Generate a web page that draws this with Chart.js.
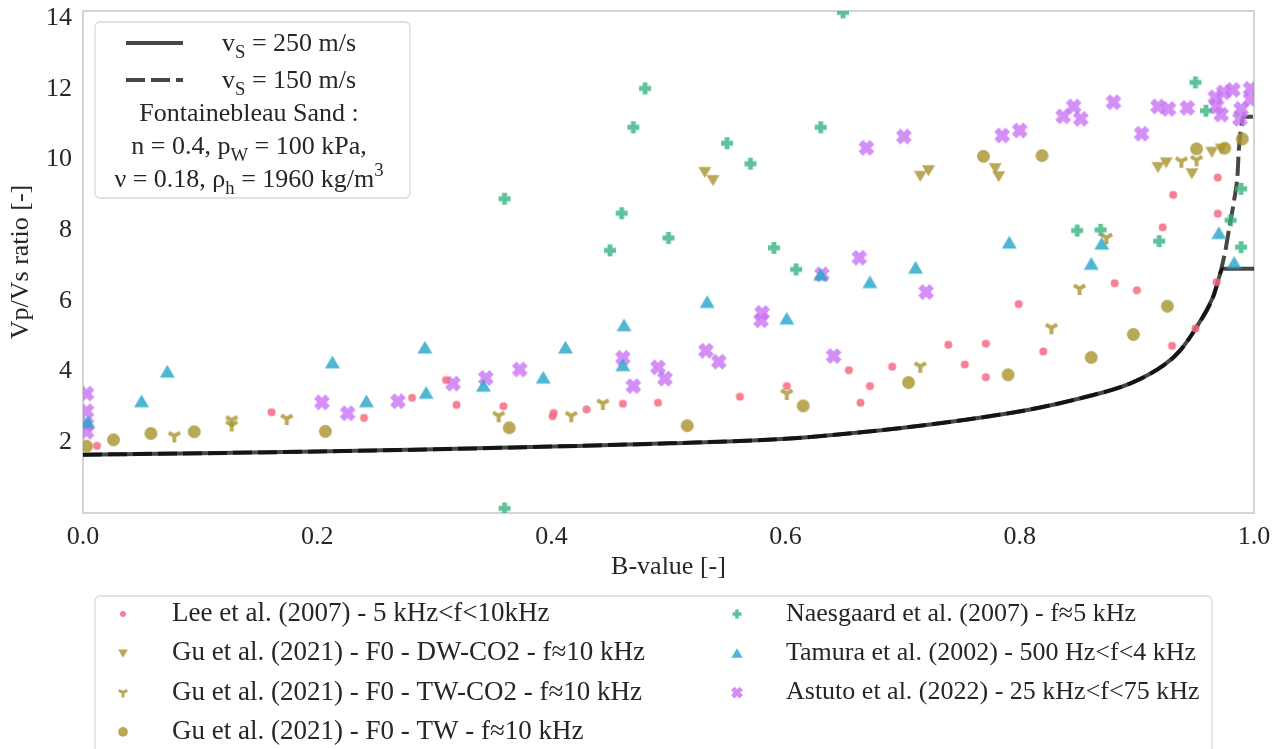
<!DOCTYPE html>
<html>
<head>
<meta charset="utf-8">
<title>Vp/Vs ratio vs B-value</title>
<script src="https://cdn.jsdelivr.net/npm/chart.js@4.4.1/dist/chart.umd.min.js"></script>
<style>
  html, body { margin: 0; padding: 0; background: #fff; }
  #wrap { width: 1278px; height: 749px; }
</style>
</head>
<body>
<div id="wrap"><canvas id="chart" width="1278" height="749"></canvas></div>
<script>
// axis ticks
const xTicks = [0, 0.2, 0.4, 0.6, 0.8, 1.0];
const yTicks = [2, 4, 6, 8, 10, 12, 14];

// series names
const leeLabel = 'Lee et al. (2007) - 5 kHz<f<10kHz';
const guDwLabel = 'Gu et al. (2021) - F0 - DW-CO2 - f\u224810 kHz';
const guTwCo2Label = 'Gu et al. (2021) - F0 - TW-CO2 - f\u224810 kHz';
const guTwLabel = 'Gu et al. (2021) - F0 - TW - f\u224810 kHz';
const naesLabel = 'Naesgaard et al. (2007) - f\u22485 kHz';
const tamuraLabel = 'Tamura et al. (2002) - 500 Hz<f<4 kHz';
const astutoLabel = 'Astuto et al. (2022) - 25 kHz<f<75 kHz';

// measured points [B-value, Vp/Vs]
const leeData = [[0.012,1.90],[0.161,2.85],[0.240,2.69],[0.281,3.26],[0.310,3.76],[0.319,3.06],[0.359,3.02],
  [0.401,2.74],[0.402,2.83],[0.430,2.93],[0.461,3.09],[0.491,3.12],[0.561,3.29],[0.601,3.59],[0.654,4.04],
  [0.664,3.12],[0.672,3.59],[0.691,4.14],[0.739,4.76],[0.753,4.20],[0.771,4.79],[0.771,3.84],[0.799,5.91],
  [0.820,4.57],[0.881,6.50],[0.900,6.30],[0.922,8.08],[0.930,4.73],[0.931,9.00],[0.950,5.22],[0.968,6.53],
  [0.969,8.47],[0.969,9.49]];
const guDwData = [[0.531,9.64],[0.538,9.41],[0.715,9.53],[0.722,9.69],[0.779,9.75],[0.782,9.52],[0.918,9.78],
  [0.925,9.91],[0.947,9.60],[0.964,10.21],[0.972,10.30]];
const guTwCo2Data = [[0.078,2.18],[0.127,2.49],[0.127,2.63],[0.174,2.67],[0.355,2.75],[0.417,2.75],[0.444,3.10],
  [0.601,3.38],[0.715,4.15],[0.827,5.24],[0.851,6.35],[0.874,7.79],[0.938,9.95],[0.951,9.99]];
const guTwData = [[0.003,1.89],[0.026,2.07],[0.058,2.25],[0.095,2.30],[0.207,2.31],[0.364,2.41],[0.516,2.47],
  [0.615,3.03],[0.705,3.69],[0.769,10.09],[0.790,3.91],[0.819,10.11],[0.861,4.40],[0.897,5.05],[0.926,5.85],
  [0.951,10.30],[0.975,10.32],[0.990,10.58]];
const naesData = [[0.360,0.13],[0.360,8.89],[0.450,7.43],[0.460,8.48],[0.470,10.91],[0.480,12.01],[0.500,7.78],
  [0.550,10.46],[0.570,9.88],[0.590,7.50],[0.609,6.89],[0.630,10.91],[0.649,14.16],[0.849,7.99],[0.869,8.01],
  [0.919,7.69],[0.950,12.18],[0.959,11.38],[0.980,8.28],[0.989,9.17],[0.989,7.52]];
const tamuraData = [[0.004,2.58],[0.050,3.16],[0.072,4.00],[0.213,4.26],[0.242,3.16],[0.292,4.68],[0.293,3.40],
  [0.342,3.60],[0.393,3.83],[0.412,4.68],[0.461,4.18],[0.462,5.31],[0.533,5.97],[0.601,5.50],[0.630,6.74],
  [0.672,6.53],[0.711,6.94],[0.791,7.65],[0.861,7.05],[0.870,7.62],[0.970,7.92],[0.983,7.08]];
const astutoData = [[0.003,3.38],[0.003,2.88],[0.003,2.50],[0.003,2.30],[0.204,3.13],[0.226,2.82],[0.269,3.16],
  [0.316,3.66],[0.344,3.82],[0.373,4.06],[0.461,4.39],[0.470,3.59],[0.491,4.12],[0.497,3.80],[0.532,4.59],
  [0.543,4.28],[0.579,5.45],[0.580,5.66],[0.631,6.75],[0.641,4.44],[0.663,7.22],[0.669,10.33],[0.701,10.65],
  [0.720,6.25],[0.785,10.68],[0.800,10.82],[0.837,11.22],[0.846,11.50],[0.852,11.15],[0.880,11.62],[0.904,10.73],
  [0.918,11.50],[0.927,11.43],[0.943,11.46],[0.967,11.76],[0.968,11.50],[0.972,11.27],[0.974,11.90],[0.982,11.97],
  [0.988,11.15],[0.989,11.43],[0.997,11.70],[0.997,12.00]];

// model curves
const curve250 = [[0,1.65],[0.1,1.69],[0.2,1.74],[0.3,1.80],[0.4,1.88],[0.5,1.97],[0.6,2.10],[0.638,2.20],
  [0.695,2.39],[0.752,2.63],[0.809,2.93],[0.851,3.24],[0.894,3.66],[0.923,4.18],[0.937,4.60],[0.951,5.26],
  [0.965,6.11],[0.974,6.91],[1.0,6.91]];
const curve150 = [[0,1.65],[0.1,1.69],[0.2,1.74],[0.3,1.80],[0.4,1.88],[0.5,1.97],[0.6,2.10],[0.638,2.20],
  [0.695,2.39],[0.752,2.63],[0.809,2.93],[0.851,3.24],[0.894,3.66],[0.923,4.18],[0.937,4.60],[0.951,5.26],
  [0.965,6.11],[0.975,7.33],[0.979,8.09],[0.983,8.84],[0.986,9.60],[0.987,10.25],[0.989,10.91],[0.991,11.21],
  [1.0,11.21]];

const FONT = "'Liberation Serif', 'Times New Roman', serif";
const TEXT = '#262626';
const colLee = 'rgba(244,106,131,0.85)';
const colGu = 'rgba(168,148,45,0.8)';
const colNaes = 'rgba(50,178,125,0.78)';
const colTamura = 'rgba(35,165,200,0.8)';
const colAstuto = 'rgba(200,115,244,0.8)';
const colCurve = 'rgba(0,0,0,0.72)';

Chart.defaults.font.family = FONT;
Chart.defaults.color = TEXT;

// marker shapes roughly like matplotlib's o, v, 1, P, ^, X
function drawShape(g, kind, color, s, x, y) {
  const h = s / 2;
  g.save();
  g.translate(x, y);
  g.fillStyle = color;
  g.strokeStyle = color;
  g.beginPath();
  if (kind === 'circle') {
    g.arc(0, 0, h, 0, Math.PI * 2);
    g.fill();
  } else if (kind === 'triDown') {
    g.moveTo(-h, -h * 0.8); g.lineTo(h, -h * 0.8); g.lineTo(0, h * 0.9); g.closePath();
    g.fill();
  } else if (kind === 'triUp') {
    g.moveTo(-h, h * 0.8); g.lineTo(h, h * 0.8); g.lineTo(0, -h * 0.9); g.closePath();
    g.fill();
  } else if (kind === 'tri') {
    g.lineWidth = s * 0.3;
    g.moveTo(0, 0); g.lineTo(0, h);
    g.moveTo(-h * 0.87, -h * 0.5); g.lineTo(0, 0); g.lineTo(h * 0.87, -h * 0.5);
    g.stroke();
  } else {
    if (kind === 'x') g.rotate(Math.PI / 4);
    const a = s * 0.2;
    g.moveTo(-a, -h); g.lineTo(a, -h); g.lineTo(a, -a); g.lineTo(h, -a); g.lineTo(h, a); g.lineTo(a, a);
    g.lineTo(a, h); g.lineTo(-a, h); g.lineTo(-a, a); g.lineTo(-h, a); g.lineTo(-h, -a); g.lineTo(-a, -a);
    g.closePath();
    g.fill();
  }
  g.restore();
}

function makeMarker(kind, color, s) {
  const c = document.createElement('canvas');
  c.width = c.height = Math.ceil(s * 1.1) + 4;
  drawShape(c.getContext('2d'), kind, color, s, c.width / 2, c.height / 2);
  return c;
}

const series = [
  {label: leeLabel, data: leeData, kind: 'circle', color: colLee, size: 8},
  {label: guDwLabel, data: guDwData, kind: 'triDown', color: colGu, size: 13},
  {label: guTwCo2Label, data: guTwCo2Data, kind: 'tri', color: colGu, size: 13},
  {label: guTwLabel, data: guTwData, kind: 'circle', color: colGu, size: 13},
  {label: naesLabel, data: naesData, kind: 'plus', color: colNaes, size: 12},
  {label: tamuraLabel, data: tamuraData, kind: 'triUp', color: colTamura, size: 15},
  {label: astutoLabel, data: astutoData, kind: 'x', color: colAstuto, size: 16}
];

const toXY = arr => arr.map(p => ({x: p[0], y: p[1]}));

const datasets = series.map(s => ({
  type: 'scatter',
  label: s.label,
  data: toXY(s.data),
  pointStyle: makeMarker(s.kind, s.color, s.size),
  pointRadius: 6,
  pointHoverRadius: 6,
  showLine: false
}));

// curves last so they sit under the markers
datasets.push({
  type: 'line', label: 'vs = 150 m/s', data: toXY(curve150),
  borderColor: colCurve, borderWidth: 4, borderDash: [19, 6], borderCapStyle: 'butt',
  pointRadius: 0, cubicInterpolationMode: 'monotone', fill: false
});
datasets.push({
  type: 'line', label: 'vs = 250 m/s', data: toXY(curve250),
  borderColor: colCurve, borderWidth: 4, borderCapStyle: 'butt',
  pointRadius: 0, cubicInterpolationMode: 'monotone', fill: false
});

function font(sz) { return sz + 'px ' + FONT; }

function richWidth(ctx, parts, sz) {
  let w = 0;
  for (const p of parts) {
    ctx.font = font(p.sub || p.sup ? sz * 0.72 : sz);
    w += ctx.measureText(p.t).width;
  }
  return w;
}

function drawRich(ctx, parts, x, y, sz) {
  for (const p of parts) {
    const s = p.sub || p.sup ? sz * 0.72 : sz;
    ctx.font = font(s);
    const dy = p.sub ? sz * 0.25 : p.sup ? -sz * 0.42 : 0;
    ctx.fillText(p.t, x, y + dy);
    x += ctx.measureText(p.t).width;
  }
}

function box(ctx, x, y, w, h) {
  ctx.save();
  ctx.beginPath();
  ctx.roundRect(x, y, w, h, 5);
  ctx.fillStyle = 'rgba(255,255,255,0.85)';
  ctx.fill();
  ctx.strokeStyle = '#d9d9d9';
  ctx.lineWidth = 1.3;
  ctx.stroke();
  ctx.restore();
}

const modelRows = [
  {parts: [{t: 'v'}, {t: 'S', sub: true}, {t: ' = 250 m/s'}], dash: []},
  {parts: [{t: 'v'}, {t: 'S', sub: true}, {t: ' = 150 m/s'}], dash: [19, 6]}
];
const modelNotes = [
  [{t: 'Fontainebleau Sand :'}],
  [{t: 'n = 0.4, p'}, {t: 'W', sub: true}, {t: ' = 100 kPa,'}],
  [{t: '\u03bd = 0.18, \u03c1'}, {t: 'h', sub: true}, {t: ' = 1960 kg/m'}, {t: '3', sup: true}]
];

const framePlugin = {
  id: 'frame',
  beforeDatasetsDraw(chart) {
    const {ctx, chartArea: a} = chart;
    ctx.save();
    ctx.strokeStyle = '#d4d4d4';
    ctx.lineWidth = 2;
    ctx.strokeRect(a.left, a.top, a.right - a.left, a.bottom - a.top);
    ctx.restore();
  },
  afterDraw(chart) {
    const ctx = chart.ctx;
    ctx.save();
    ctx.fillStyle = TEXT;
    ctx.textBaseline = 'alphabetic';

    // model legend, top left
    box(ctx, 95, 22, 315, 176);
    modelRows.forEach((r, i) => {
      const y = 43 + i * 37;
      ctx.save();
      ctx.strokeStyle = colCurve;
      ctx.lineWidth = 4;
      ctx.setLineDash(r.dash);
      ctx.beginPath();
      ctx.moveTo(126, y);
      ctx.lineTo(183, y);
      ctx.stroke();
      ctx.restore();
      drawRich(ctx, r.parts, 222, y + 8, 26);
    });
    modelNotes.forEach((parts, i) => {
      const w = richWidth(ctx, parts, 26);
      drawRich(ctx, parts, 249 - w / 2, 121 + i * 33, 26);
    });

    // data legend, bottom
    box(ctx, 95, 596, 1117, 175);
    ctx.textBaseline = 'middle';
    series.forEach((s, i) => {
      const col = i < 4 ? 0 : 1;
      const row = i < 4 ? i : i - 4;
      const mx = col === 0 ? 123 : 737;
      const y = 614 + row * 39.3;
      drawShape(ctx, s.kind, s.color, s.size * 0.75, mx, y);
      ctx.fillStyle = TEXT;
      ctx.font = font(col === 0 ? 27 : 26);
      ctx.fillText(s.label, mx + 49, y);
    });
    ctx.restore();
  }
};

new Chart(document.getElementById('chart'), {
  data: {datasets: datasets},
  options: {
    responsive: false,
    animation: false,
    events: [],
    layout: {padding: {top: 11, right: 24, left: 0, bottom: 162}},
    plugins: {legend: {display: false}, tooltip: {enabled: false}},
    scales: {
      x: {
        type: 'linear',
        min: 0,
        max: 1,
        grid: {display: false, drawTicks: false},
        border: {display: false},
        afterBuildTicks: scale => { scale.ticks = xTicks.map(v => ({value: v})); },
        afterFit: scale => { scale.height = 74; scale.paddingLeft = 0; scale.paddingRight = 0; },
        ticks: {padding: 9, font: {size: 26}, color: TEXT, callback: v => Number(v).toFixed(1)},
        title: {display: true, text: 'B-value [-]', font: {size: 26}, color: TEXT, padding: {top: 0, bottom: 4}}
      },
      y: {
        type: 'linear',
        min: 0,
        max: 14.2,
        grid: {display: false, drawTicks: false},
        border: {display: false},
        afterBuildTicks: scale => { scale.ticks = yTicks.map(v => ({value: v})); },
        afterFit: scale => { scale.width = 83; scale.paddingTop = 0; scale.paddingBottom = 0; },
        ticks: {padding: 11, font: {size: 26}, color: TEXT, callback: v => String(v)},
        title: {display: true, text: 'Vp/Vs ratio [-]', font: {size: 26}, color: TEXT, padding: {top: 6, bottom: 4}}
      }
    }
  },
  plugins: [framePlugin]
});
</script>
</body>
</html>
